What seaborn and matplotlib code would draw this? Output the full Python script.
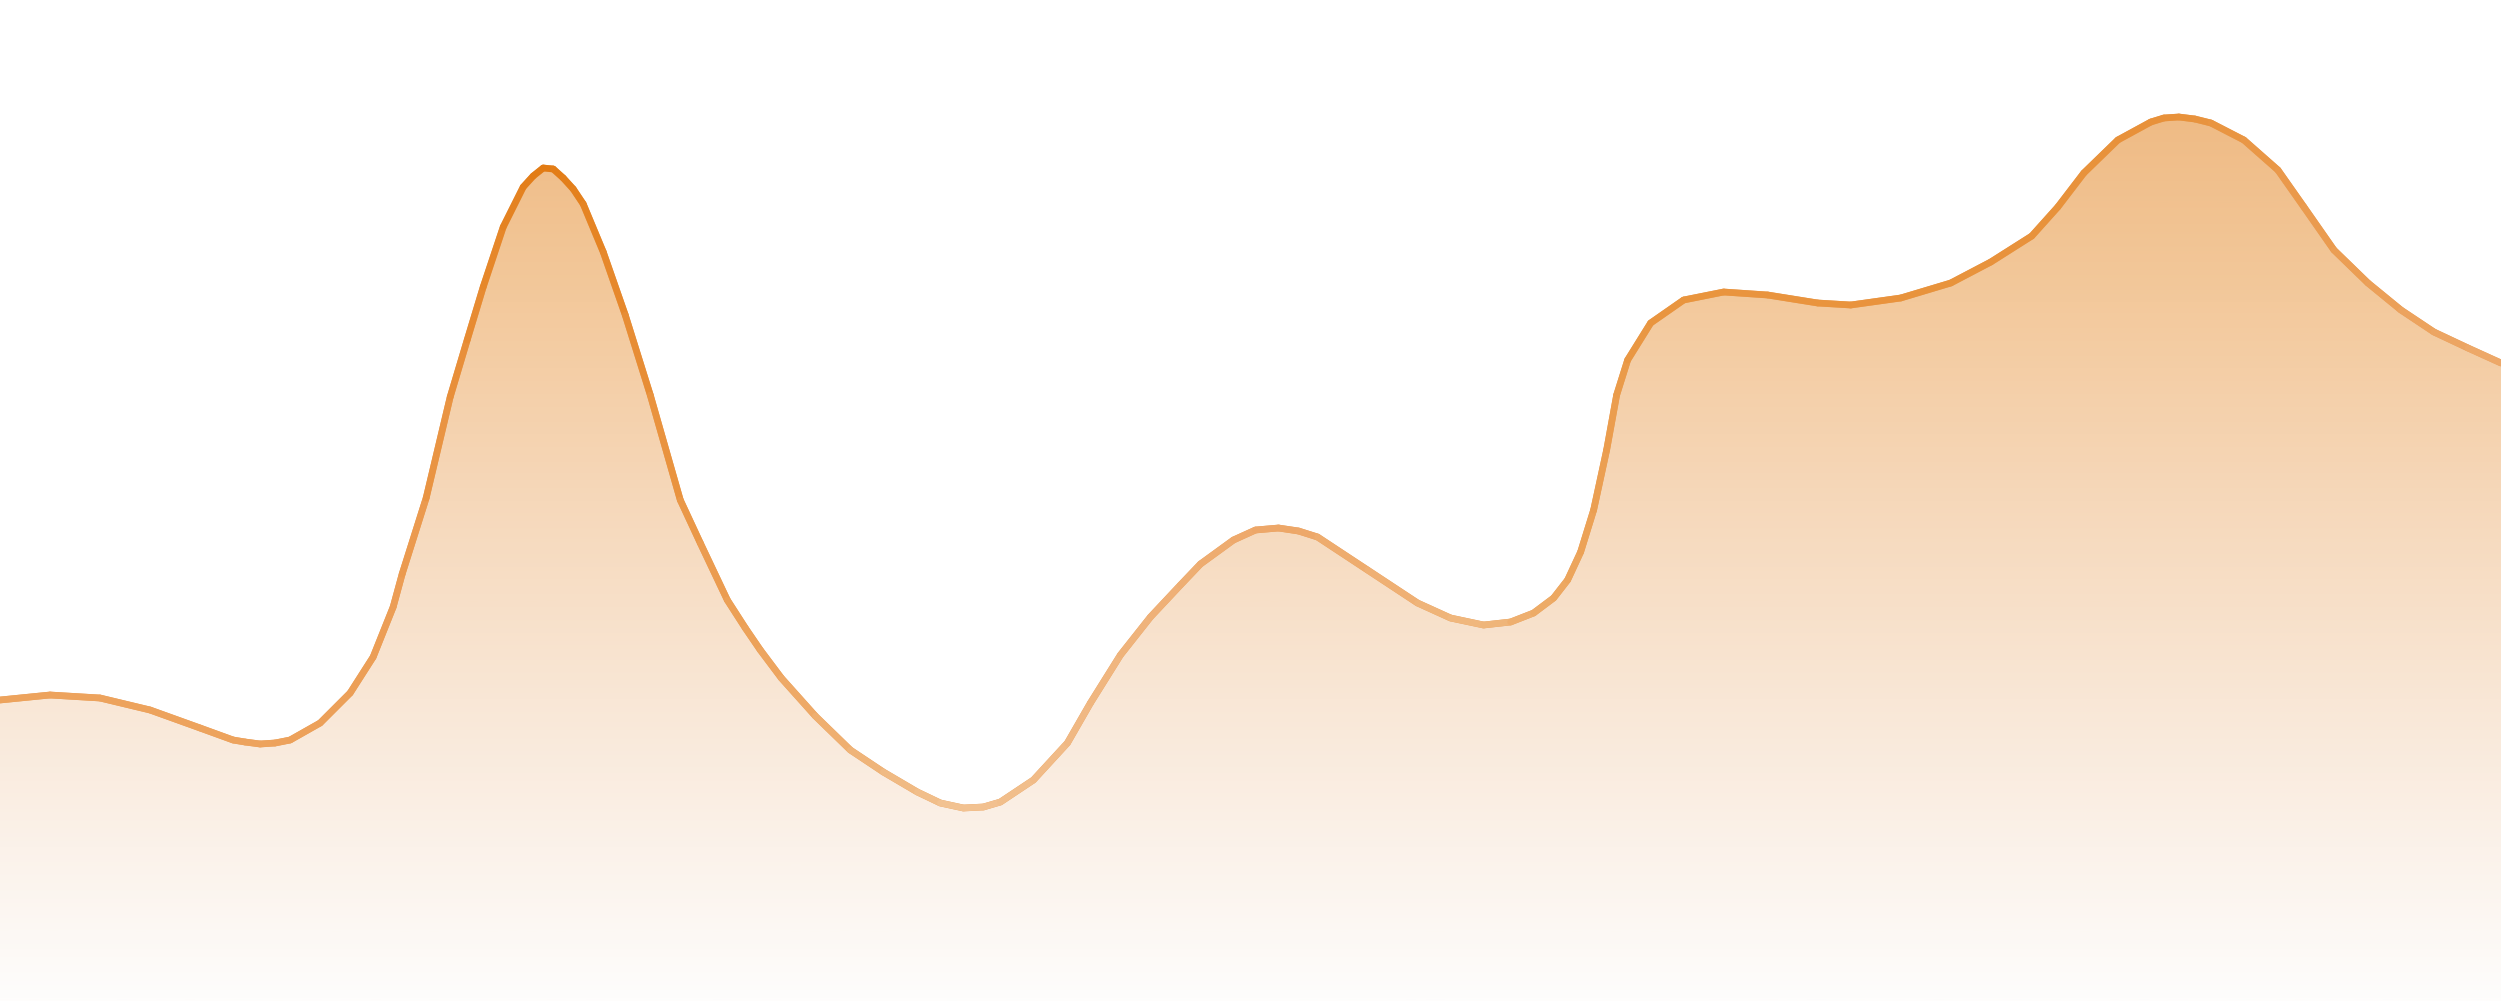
import numpy as np
import pandas as pd
import seaborn as sns
import matplotlib.pyplot as plt
from matplotlib.colors import LinearSegmentedColormap, to_rgb
from matplotlib.collections import LineCollection

# wave outline, x across the canvas, height measured from the bottom
wave_x = [0, 50, 100, 150, 200, 233, 245, 260, 275, 290, 320, 350, 373, 393, 402, 426, 450,
          467, 483, 503, 523, 533, 543, 553, 563, 573, 583, 603, 625, 650, 680, 700, 727, 745, 760,
          781, 815, 850, 883, 917, 940, 963, 983, 1000, 1033, 1067, 1090, 1120, 1150, 1180, 1200,
          1233, 1255, 1278, 1298, 1317, 1367, 1417, 1450, 1483, 1510, 1533, 1553, 1567, 1580, 1593,
          1606, 1616, 1627, 1650, 1683, 1723, 1767, 1817, 1850, 1900, 1950, 1990, 2031,
          2057, 2083, 2117, 2150, 2163, 2178, 2194, 2210, 2243, 2277, 2303, 2333, 2367, 2400, 2433,
          2467, 2500]
wave_y = [301, 306, 303, 291, 273, 261, 259, 257, 258, 261, 278, 308, 344, 394, 427, 503, 604,
          661, 714, 774, 814, 825, 833, 832, 823, 812, 797, 749, 686, 606, 501, 458, 401, 373, 351,
          323, 285, 251, 229, 209, 198, 193, 194, 199, 221, 258, 298, 346, 384, 416, 437,
          461, 471, 473, 470, 464, 431, 398, 383, 376, 379, 388, 403, 421, 449, 491,
          551, 606, 641, 678, 701, 709, 706, 698, 696, 703, 718, 739, 765,
          794, 828, 861, 879, 883, 884, 882, 878, 861, 831, 794, 751, 718, 691, 669,
          653, 638]

df = pd.DataFrame({'x': wave_x, 'y': wave_y})

sns.set_style('white')
fig = plt.figure(figsize=(25.01, 10.01), dpi=100)
ax = fig.add_axes([0, 0, 1, 1])

# gradient fill under the wave
fill_cmap = LinearSegmentedColormap.from_list('fill', [
    (0.0, '#fefdfc'), (0.15, '#fbf2ea'), (0.30, '#f9e7d6'),
    (0.50, '#f6d8ba'), (0.70, '#f3c99c'), (0.90, '#efba83'), (1.0, '#eeb57c')])
poly = ax.fill_between(df['x'], df['y'], 0, facecolor='none', edgecolor='none')
grad = np.linspace(0, 1, 500).reshape(-1, 1)
img = ax.imshow(grad, cmap=fill_cmap, extent=[0, 2500, 0, 1001], origin='lower',
                aspect='auto', zorder=1)
img.set_clip_path(poly.get_paths()[0], transform=ax.transData)

# base line through seaborn, then colour it along x
sns.lineplot(data=df, x='x', y='y', color='#eba05a', linewidth=4.8, ax=ax,
             zorder=2, sort=False)

stops_x = [0, 260, 400, 545, 700, 960, 1280, 1480, 1650, 2178, 2500]
stops_c = ['#eda35d', '#eda35d', '#ec9d55', '#e27a12', '#eb9a4c', '#f2c393',
           '#eda667', '#f0b87f', '#e9953f', '#e8913a', '#eda96a']
rgb = np.array([to_rgb(c) for c in stops_c])
pts = np.column_stack([df['x'], df['y']])
segs = np.stack([pts[:-1], pts[1:]], axis=1)
mid = (pts[:-1, 0] + pts[1:, 0]) / 2
cols = np.column_stack([np.interp(mid, stops_x, rgb[:, i]) for i in range(3)])
lc = LineCollection(segs, colors=cols, linewidths=4.8, capstyle='round',
                    joinstyle='round', zorder=3)
ax.add_collection(lc)

ax.set_xlim(0, 2500)
ax.set_ylim(0, 1001)
ax.axis('off')
fig.savefig('out.png', dpi=100, facecolor='white')
